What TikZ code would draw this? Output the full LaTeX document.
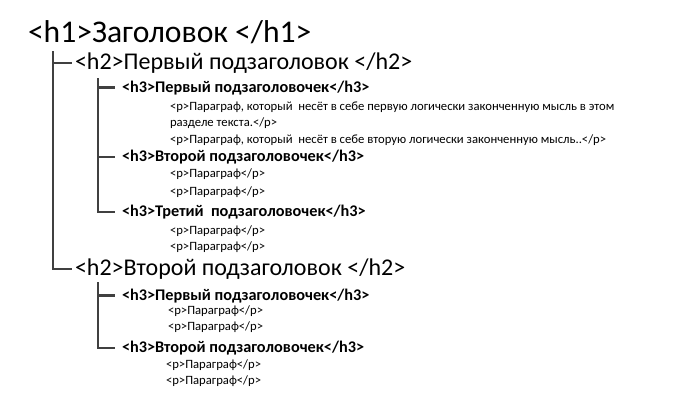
\documentclass[tikz,border=0pt]{standalone}
\usepackage{fontspec}
\setmainfont{Carlito}
\usetikzlibrary{positioning}

\begin{document}
\begin{tikzpicture}[x=0.75pt,y=-0.75pt,inner sep=0pt,outer xsep=2.25pt,
  hA/.style={anchor=base west,font=\fontsize{23.7}{26}\selectfont},
  hB/.style={anchor=base west,font=\fontsize{18}{20}\selectfont},
  hC/.style={anchor=base west,outer xsep=5.25pt,font=\bfseries\fontsize{12.2}{14}\selectfont},
  par/.style={anchor=base west,font=\fontsize{9.5}{11}\selectfont},
  branch/.style={draw=black!75,line width=1.7pt}]
\useasboundingbox (0,0) rectangle (676,419);

\coordinate (v1) at (53,51);
\coordinate (v2) at (98,78);
\coordinate (v3) at (98,282);

\node[hA] (h1) at (25,42) {<h1>Заголовок </h1>};

\node[hB] (h2a) at (72,69.5) {<h2>Первый подзаголовок </h2>};
\node[hC] (h3a) at (115,92) {<h3>Первый подзаголовочек</h3>};
\node[par] (p1) at (167,110) {<p>Параграф, который\ \ несёт в себе первую логически законченную мысль в этом};
\node[par] (p2) at (167,126) {разделе текста.</p>};
\node[par] (p3) at (167,143) {<p>Параграф, который\ \ несёт в себе вторую логически законченную мысль..</p>};
\node[hC] (h3b) at (115,161.5) {<h3>Второй подзаголовочек</h3>};
\node[par] (p4) at (167,177) {<p>Параграф</p>};
\node[par] (p5) at (167,195) {<p>Параграф</p>};
\node[hC] (h3c) at (115,216.5) {<h3>Третий\ \ подзаголовочек</h3>};
\node[par] (p6) at (167,234) {<p>Параграф</p>};
\node[par] (p7) at (167,250.5) {<p>Параграф</p>};

\node[hB] (h2b) at (72,275) {<h2>Второй подзаголовок </h2>};
\node[hC] (h3d) at (115,300) {<h3>Первый подзаголовочек</h3>};
\node[par] (p8) at (165,314) {<p>Параграф</p>};
\node[par] (p9) at (165,330.5) {<p>Параграф</p>};
\node[hC] (h3e) at (115,352.5) {<h3>Второй подзаголовочек</h3>};
\node[par] (p10) at (163,368) {<p>Параграф</p>};
\node[par] (p11) at (163,384) {<p>Параграф</p>};

\draw[branch] (v1) |- (h2a.west);
\draw[branch] (v1) |- (h2b.west);
\draw[branch] (v2) |- (h3a.west);
\draw[branch] (v2) |- (h3b.west);
\draw[branch] (v2) |- (h3c.west);
\draw[branch] (v3) |- (h3d.west);
\draw[branch] (v3) |- (h3e.west);
\end{tikzpicture}
\end{document}
